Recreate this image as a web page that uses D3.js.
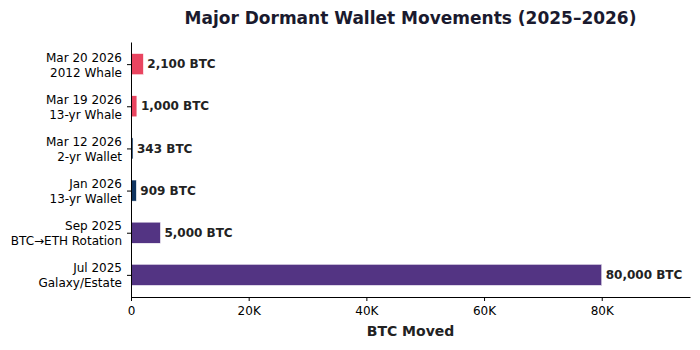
<!DOCTYPE html>
<html>
<head>
<meta charset="utf-8">
<script src="https://cdn.jsdelivr.net/npm/d3@7"></script>
<style>
  html, body { margin: 0; padding: 0; background: #fff; }
  svg { display: block; font-family: "DejaVu Sans", sans-serif; }
</style>
</head>
<body>
<svg id="chart" width="700" height="350"></svg>
<script>
// Dormant wallet movements, top of chart first
const dates   = ["Mar 20 2026", "Mar 19 2026", "Mar 12 2026", "Jan 2026", "Sep 2025", "Jul 2025"];
const wallets = ["2012 Whale", "13-yr Whale", "2-yr Wallet", "13-yr Wallet", "BTC\u2192ETH Rotation", "Galaxy/Estate"];
const btcMoved = [2100, 1000, 343, 909, 5000, 80000];
const barColors = ["#e94560", "#e94560", "#0f3460", "#0f3460", "#533483", "#533483"];
const xTicks = [0, 20000, 40000, 60000, 80000];
const xTickLabels = ["0", "20K", "40K", "60K", "80K"];

const svg = d3.select("#chart");
const margin = { top: 42, right: 10, bottom: 53, left: 131 };
const W = 700, H = 350;
const iw = W - margin.left - margin.right;
const ih = H - margin.top - margin.bottom;

const g = svg.append("g").attr("transform", `translate(${margin.left},${margin.top})`);

const x = d3.scaleLinear().domain([0, 95000]).range([0, iw]);
// category slots as positions 0..5, bar thickness 0.5 slot, small margin around
const barThickness = 0.5;
const y = d3.scaleLinear().domain([-0.525, dates.length - 1 + 0.525]).range([0, ih]);
const bh = y(barThickness) - y(0);

// bars
g.selectAll("rect.bar")
  .data(btcMoved)
  .join("rect")
  .attr("class", "bar")
  .attr("x", x(0))
  .attr("y", (d, i) => y(i - barThickness / 2))
  .attr("width", d => x(d) - x(0))
  .attr("height", bh)
  .attr("fill", (d, i) => barColors[i])
  .attr("stroke", "#ffffff")
  .attr("stroke-width", 0.5);

// value labels
g.selectAll("text.val")
  .data(btcMoved)
  .join("text")
  .attr("class", "val")
  .attr("x", d => x(d) + 4)
  .attr("y", (d, i) => y(i))
  .attr("dy", "0.35em")
  .attr("font-size", 12)
  .attr("font-weight", "bold")
  .attr("fill", "#222")
  .text(d => d3.format(",")(d) + " BTC");

// x axis
const xAxis = g.append("g")
  .attr("transform", `translate(0,${ih})`)
  .call(d3.axisBottom(x).tickValues(xTicks).tickFormat((d, i) => xTickLabels[i]).tickSize(4).tickSizeOuter(0));
xAxis.select(".domain").attr("stroke", "#000").attr("stroke-width", 1);
xAxis.selectAll(".tick line").attr("stroke", "#000");
xAxis.selectAll(".tick text").attr("font-size", 12).attr("font-family", "DejaVu Sans").attr("fill", "#000").attr("dy", "0.9em");

// y axis with two-line labels
const yAxis = g.append("g")
  .call(d3.axisLeft(y).tickValues(d3.range(dates.length)).tickFormat(() => "").tickSize(4).tickSizeOuter(0));
yAxis.select(".domain").attr("stroke", "#000").attr("stroke-width", 1);
yAxis.selectAll(".tick line").attr("stroke", "#000");
yAxis.selectAll(".tick text").remove();
yAxis.selectAll(".tick").each(function(d) {
  const t = d3.select(this).append("text")
    .attr("x", -9)
    .attr("text-anchor", "end")
    .attr("font-size", 12)
    .attr("font-family", "DejaVu Sans")
    .attr("fill", "#000");
  t.append("tspan").attr("x", -9).attr("y", -3).text(dates[d]);
  t.append("tspan").attr("x", -9).attr("y", 12).text(wallets[d]);
});

// axis label
svg.append("text")
  .attr("x", margin.left + iw / 2)
  .attr("y", 336)
  .attr("text-anchor", "middle")
  .attr("font-size", 14)
  .attr("font-weight", "bold")
  .attr("fill", "#222")
  .text("BTC Moved");

// title
svg.append("text")
  .attr("x", margin.left + iw / 2)
  .attr("y", 24)
  .attr("text-anchor", "middle")
  .attr("font-size", 17)
  .attr("font-weight", "bold")
  .attr("fill", "#1a1a2e")
  .text("Major Dormant Wallet Movements (2025\u20132026)");
</script>
</body>
</html>
